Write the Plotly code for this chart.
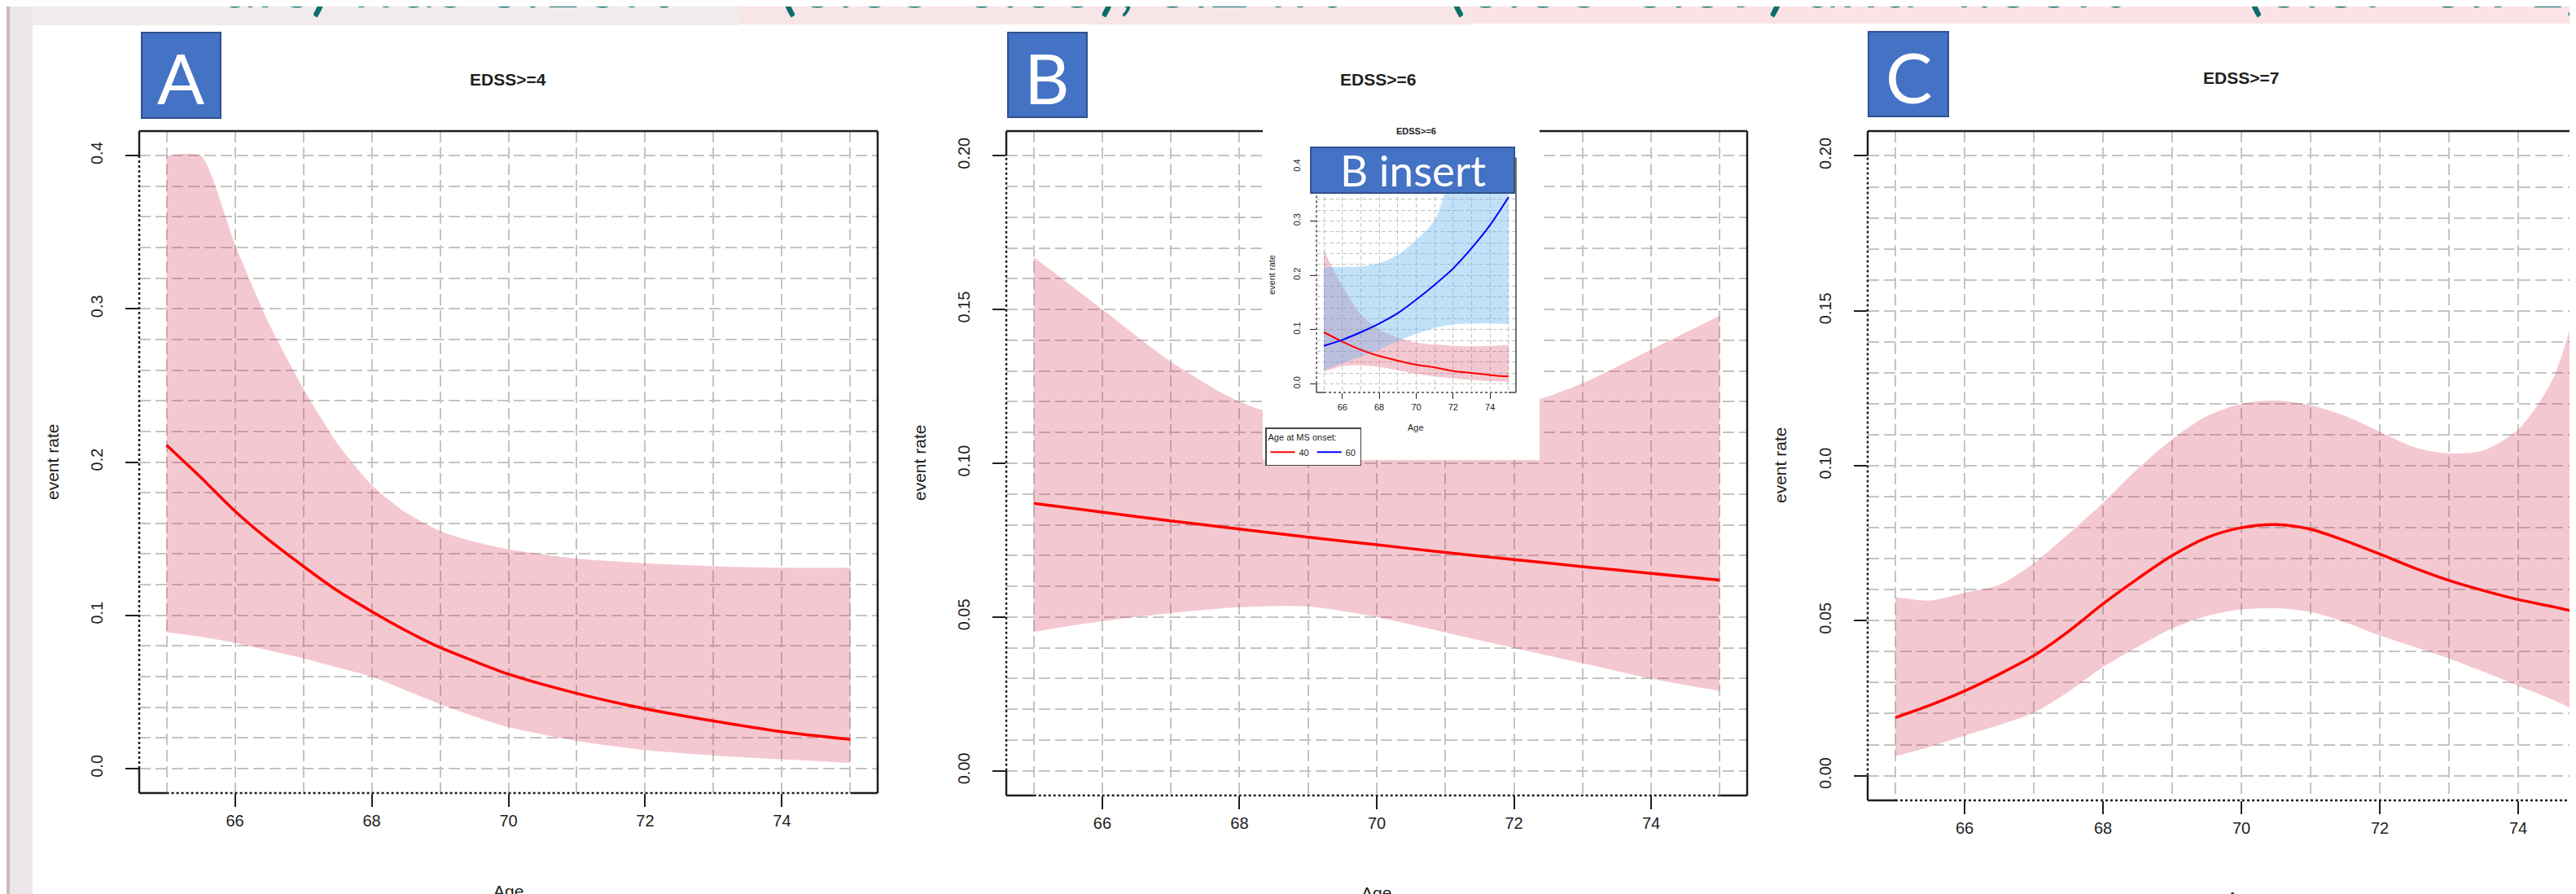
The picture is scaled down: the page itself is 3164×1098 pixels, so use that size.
import plotly.graph_objects as go

W, H = 3164, 1098

# ---------------- data ----------------
X_TICKS = [66, 68, 70, 72, 74]

# Panel A  (EDSS>=4)
A_AGE = [65, 65.5, 66, 66.5, 67, 67.5, 68, 68.5, 69, 69.5, 70, 71, 72, 73, 74, 75]
A_RATE = [0.211, 0.190, 0.168, 0.149, 0.132, 0.116, 0.1025, 0.090, 0.079, 0.070, 0.0616,
          0.049, 0.039, 0.031, 0.024, 0.019]
A_UPPER = [0.400, 0.400, 0.342, 0.290, 0.248, 0.212, 0.185, 0.167, 0.155, 0.148, 0.143,
           0.137, 0.134, 0.132, 0.131, 0.131]
A_LOWER = [0.089, 0.086, 0.082, 0.077, 0.072, 0.066, 0.060, 0.051, 0.042, 0.034, 0.027,
           0.018, 0.012, 0.0085, 0.006, 0.0037]
A_YTICKS = [0.0, 0.1, 0.2, 0.3, 0.4]
A_YTEXT = ["0.0", "0.1", "0.2", "0.3", "0.4"]

# Panel B  (EDSS>=6)
B_AGE = [65, 66, 67, 68, 69, 70, 71, 72, 73, 74, 75]
B_RATE = [0.087, 0.0841, 0.0813, 0.0786, 0.0760, 0.0735, 0.0710, 0.0687, 0.0664, 0.0642, 0.0620]
B_UPPER = [0.167, 0.150, 0.133, 0.120, 0.113, 0.110, 0.112, 0.118, 0.126, 0.137, 0.148]
B_LOWER = [0.0452, 0.0487, 0.0513, 0.0532, 0.0534, 0.0500, 0.0450, 0.0400, 0.0350, 0.0300, 0.0260]
BC_YTICKS = [0.00, 0.05, 0.10, 0.15, 0.20]
BC_YTEXT = ["0.00", "0.05", "0.10", "0.15", "0.20"]

# Panel C  (EDSS>=7)
C_AGE = [65, 65.5, 66, 66.5, 67, 67.5, 68, 68.5, 69, 69.5, 70, 70.5, 71, 71.5, 72, 72.5,
         73, 73.5, 74, 74.5, 75]
C_RATE = [0.0187, 0.0227, 0.0273, 0.0327, 0.0387, 0.0465, 0.0554, 0.0635, 0.0710, 0.0768,
          0.0800, 0.0810, 0.0795, 0.0758, 0.0715, 0.0670, 0.0630, 0.0597, 0.0568, 0.0545, 0.0520]
C_UPPER = [0.0576, 0.0565, 0.0590, 0.0615, 0.0685, 0.0780, 0.0880, 0.0990, 0.1085, 0.1160,
           0.1200, 0.1210, 0.1195, 0.1160, 0.1110, 0.1060, 0.1040, 0.1050, 0.1117, 0.1280, 0.1650]
C_LOWER = [0.0063, 0.0093, 0.0129, 0.0163, 0.0203, 0.0270, 0.0350, 0.0415, 0.0475, 0.0515,
           0.0536, 0.0540, 0.0528, 0.0495, 0.0452, 0.0415, 0.0378, 0.0335, 0.0290, 0.0245, 0.0190]

# B insert  (EDSS>=6 by age at MS onset)
I_AGE = [65, 66, 67, 68, 69, 70, 71, 72, 73, 74, 75]
I40_RATE = [0.095, 0.0775, 0.0625, 0.051, 0.0425, 0.035, 0.030, 0.0235, 0.020, 0.016, 0.0135]
I40_UPPER = [0.245, 0.180, 0.1275, 0.100, 0.085, 0.076, 0.0725, 0.070, 0.069, 0.070, 0.0715]
I40_LOWER = [0.0225, 0.0325, 0.034, 0.031, 0.025, 0.0185, 0.0135, 0.010, 0.007, 0.005, 0.004]
I60_RATE = [0.070, 0.081, 0.095, 0.111, 0.130, 0.155, 0.1825, 0.2125, 0.250, 0.2925, 0.344]
I60_UPPER = [0.215, 0.215, 0.216, 0.2225, 0.2375, 0.265, 0.302, 0.400, 0.500, 0.600, 0.700]
I60_LOWER = [0.025, 0.038, 0.050, 0.064, 0.078, 0.092, 0.103, 0.109, 0.111, 0.111, 0.110]

# ---------------- styling ----------------
FONT_R = "Liberation Sans, Arial, sans-serif"
FONT_C = "Lato, Open Sans, sans-serif"
INK = "#1e1e1e"
GRID = "#c4c4c4"
PINK = "rgba(215,50,80,0.27)"
LBLUE = "rgba(100,180,240,0.40)"
RED = "#ff0000"
BLUE = "#0000ff"
PANEL_BLUE = "#4472c4"
PANEL_EDGE = "#2f528f"


def px(x):
    return x / W


def py(y):
    return 1 - y / H


fig = go.Figure()


def add_band(ages, up, lo, xa, ya, color, smooth=0.8):
    fig.add_trace(go.Scatter(x=ages, y=up, mode="lines",
                             line=dict(width=0, shape="spline", smoothing=smooth),
                             xaxis=xa, yaxis=ya, showlegend=False, hoverinfo="skip"))
    fig.add_trace(go.Scatter(x=ages, y=lo, mode="lines",
                             line=dict(width=0, shape="spline", smoothing=smooth),
                             fill="tonexty", fillcolor=color,
                             xaxis=xa, yaxis=ya, showlegend=False, hoverinfo="skip"))


def add_line(ages, vals, xa, ya, color, width, name=None, legend=False):
    fig.add_trace(go.Scatter(x=ages, y=vals, mode="lines", name=name,
                             line=dict(color=color, width=width, shape="spline", smoothing=0.8),
                             xaxis=xa, yaxis=ya, showlegend=legend, hoverinfo="skip"))


# panel A
add_band(A_AGE, A_UPPER, A_LOWER, "x", "y", PINK, smooth=0.6)
add_line(A_AGE, A_RATE, "x", "y", RED, 3.5)
# panel B
add_band(B_AGE, B_UPPER, B_LOWER, "x2", "y2", PINK)
add_line(B_AGE, B_RATE, "x2", "y2", RED, 3.5)
# panel C
add_band(C_AGE, C_UPPER, C_LOWER, "x3", "y3", PINK)
add_line(C_AGE, C_RATE, "x3", "y3", RED, 3.5)
# white cover behind the insert (empty subplot whose background hides panel B)
fig.add_trace(go.Scatter(x=[], y=[], xaxis="x4", yaxis="y4", showlegend=False, hoverinfo="skip"))
# insert
add_band(I_AGE, I40_UPPER, I40_LOWER, "x5", "y5", PINK)
add_band(I_AGE, I60_UPPER, I60_LOWER, "x5", "y5", LBLUE)
add_line(I_AGE, I40_RATE, "x5", "y5", RED, 2, name="40", legend=True)
add_line(I_AGE, I60_RATE, "x5", "y5", BLUE, 2, name="60", legend=True)

# ---------------- axes ----------------
XR = [64.6, 75.4]
YR_A = [-0.016, 0.416]
YR_B = [-0.008, 0.208]


def xaxis(dom, rng, anchor, size=20, ticklen=16, tw=2, standoff=0, gw=2, dash="14px,6px"):
    return dict(domain=dom, range=rng, anchor=anchor, tickmode="array",
                tickvals=X_TICKS, ticktext=[str(v) for v in X_TICKS],
                ticks="outside", ticklen=ticklen, tickwidth=tw, tickcolor=INK,
                showline=False, zeroline=False,
                showgrid=True, gridcolor=GRID, griddash=dash, gridwidth=gw,
                minor=dict(tick0=65, dtick=1, showgrid=True, gridcolor=GRID,
                           griddash=dash, gridwidth=gw, ticks=""),
                tickfont=dict(family=FONT_R, size=size, color=INK),
                ticklabelstandoff=standoff, fixedrange=True)


def yaxis(dom, rng, anchor, vals, text, minor, size=20, ticklen=16, tw=2, standoff=20,
          gw=2, dash="14px,6px"):
    return dict(domain=dom, range=rng, anchor=anchor, tickmode="array",
                tickvals=vals, ticktext=text, tickangle=-90,
                ticks="outside", ticklen=ticklen, tickwidth=tw, tickcolor=INK,
                showline=False, zeroline=False,
                showgrid=True, gridcolor=GRID, griddash=dash, gridwidth=gw,
                minor=dict(tick0=0, dtick=minor, showgrid=True, gridcolor=GRID,
                           griddash=dash, gridwidth=gw, ticks=""),
                tickfont=dict(family=FONT_R, size=size, color=INK),
                ticklabelstandoff=standoff, fixedrange=True)


# pixel boxes of the plotting areas
A_BOX = (163, 153, 1070, 966)
B_BOX = (1228, 153, 2138, 969)
C_BOX = (2286, 153, 3164, 975)
COVER = (1543, 140, 1883, 557)
I_BOX = (1609, 186, 1854, 474)

C_XR = [64.6, 64.6 + (C_BOX[2] - C_BOX[0]) / 85.0]


def xdom(b):
    return [px(b[0]), px(b[2])]


def ydom(b):
    return [py(b[3]), py(b[1])]


fig.update_layout(
    xaxis=xaxis(xdom(A_BOX), XR, "y"),
    yaxis=yaxis(ydom(A_BOX), YR_A, "x", A_YTICKS, A_YTEXT, 0.02),
    xaxis2=xaxis(xdom(B_BOX), XR, "y2"),
    yaxis2=yaxis(ydom(B_BOX), YR_B, "x2", BC_YTICKS, BC_YTEXT, 0.01),
    xaxis3=xaxis(xdom(C_BOX), C_XR, "y3"),
    yaxis3=yaxis(ydom(C_BOX), YR_B, "x3", BC_YTICKS, BC_YTEXT, 0.01),
    xaxis4=dict(domain=xdom(COVER), range=[0, 1], anchor="y4", showgrid=False, zeroline=False,
                showticklabels=False, ticks="", showline=False, fixedrange=True),
    yaxis4=dict(domain=ydom(COVER), range=[0, 1], anchor="x4", showgrid=False, zeroline=False,
                showticklabels=False, ticks="", showline=False, fixedrange=True),
    xaxis5=xaxis(xdom(I_BOX), XR, "y5", size=11, ticklen=7, tw=1.2, standoff=1, gw=1,
                  dash="5px,3px"),
    yaxis5=yaxis(ydom(I_BOX), YR_A, "x5", A_YTICKS, A_YTEXT, 0.02, size=11, ticklen=7,
                 tw=1.2, standoff=8, gw=1, dash="5px,3px"),
)

# ---------------- shapes ----------------
shapes = []


def rect_px(x0, y0, x1, y1, fill, line_color=None, lw=0, layer="above"):
    shapes.append(dict(type="rect", xref="paper", yref="paper", x0=px(x0), x1=px(x1),
                       y0=py(y1), y1=py(y0), fillcolor=fill, layer=layer,
                       line=dict(color=line_color or fill, width=lw)))


def seg(xref, yref, x0, y0, x1, y1, dash="solid", width=2.5, color=INK):
    shapes.append(dict(type="line", xref=xref, yref=yref, x0=x0, y0=y0, x1=x1, y1=y1,
                       line=dict(color=color, width=width, dash=dash), layer="above"))


# slide background pieces
rect_px(0, 0, 900, 23, "#f1ebeb", layer="below")
rect_px(900, 0, 1800, 22, "#f7e5e7", layer="below")
rect_px(1800, 0, W, 21, "#fbe3e5", layer="below")
rect_px(0, 0, 32, H, "#ece7e9", layer="below")
rect_px(0, 0, 4, H, "#c9b8bc", layer="below")


def frame(xa, ya, xr, yr, y_lo, y_hi, x_lo=65, x_hi=75, top=True, right=True, lw=2.5,
          color=INK):
    xd, yd = xa + " domain", ya + " domain"
    if top:
        seg(xd, yd, 0, 1, 1, 1, width=lw, color=color)
    if right:
        seg(xd, yd, 1, 0, 1, 1, width=lw, color=color)
    # left side: solid outside data range, dotted inside
    seg(xd, ya, 0, yr[0], 0, y_lo, width=lw, color=color)
    seg(xd, ya, 0, y_lo, 0, y_hi, dash="dot", width=lw, color=color)
    seg(xd, ya, 0, y_hi, 0, yr[1], width=lw, color=color)
    # bottom side
    seg(xa, yd, xr[0], 0, x_lo, 0, width=lw, color=color)
    seg(xa, yd, x_lo, 0, min(x_hi, xr[1]), 0, dash="dot", width=lw, color=color)
    if x_hi < xr[1]:
        seg(xa, yd, x_hi, 0, xr[1], 0, width=lw, color=color)


frame("x", "y", XR, YR_A, 0.0, 0.4)
frame("x2", "y2", XR, YR_B, 0.0, 0.2, top=False)
seg("paper", "paper", px(B_BOX[0]), py(B_BOX[1]), px(COVER[0]), py(B_BOX[1]))
seg("paper", "paper", px(COVER[2]), py(B_BOX[1]), px(B_BOX[2]), py(B_BOX[1]))
frame("x3", "y3", C_XR, YR_B, 0.0, 0.2, right=False)
frame("x5", "y5", XR, YR_A, 0.0, 0.4, lw=1.5, color="#444444")

# panel letter boxes
rect_px(166, 32, 263, 137, PANEL_BLUE, PANEL_EDGE, 2)
rect_px(1230, 32, 1327, 136, PANEL_BLUE, PANEL_EDGE, 2)
rect_px(2287, 31, 2385, 135, PANEL_BLUE, PANEL_EDGE, 2)
rect_px(1602, 173, 1852, 229, PANEL_BLUE, PANEL_EDGE, 2)

fig.update_layout(shapes=shapes)

# ---------------- text ----------------
ann = []


def text_px(x, y, s, size, family=FONT_R, color=INK, weight="normal", angle=0,
            xanchor="center", yanchor="middle"):
    ann.append(dict(x=px(x), y=py(y), xref="paper", yref="paper", text=s, showarrow=False,
                    xanchor=xanchor, yanchor=yanchor, textangle=angle,
                    font=dict(family=family, size=size, color=color, weight=weight)))


# clipped slide headline (only the bottom of the line is visible, as in the slide)
TEAL = "#0b6e6c"
HL_Y = 21
text_px(263, HL_Y, "ars) was 0.16%", 86, FONT_C, TEAL, xanchor="left", yanchor="bottom")
text_px(946, HL_Y, "(0.03-0.05), 0.24%", 86, FONT_C, TEAL, xanchor="left", yanchor="bottom")
text_px(1767, HL_Y, "(0.06-0.09) and 4.00%", 86, FONT_C, TEAL, xanchor="left", yanchor="bottom")
text_px(2747, HL_Y, "(0.07-0.91)", 86, FONT_C, TEAL, xanchor="left", yanchor="bottom")

# panel letters
text_px(214, 86, "A", 86, FONT_C, "white")
text_px(1278, 86, "B", 86, FONT_C, "white")
text_px(2336, 85, "C", 86, FONT_C, "white")
text_px(1727, 201, "B insert", 53, FONT_C, "white")

# titles
text_px(616, 90, "EDSS>=4", 21, weight="bold")
text_px(1684, 90, "EDSS>=6", 21, weight="bold")
text_px(2744, 88, "EDSS>=7", 21, weight="bold")
text_px(1731, 153, "EDSS>=6", 11, weight="bold")

# axis titles
text_px(56, 560, "event rate", 21, angle=-90)
text_px(1121, 561, "event rate", 21, angle=-90)
text_px(2178, 564, "event rate", 21, angle=-90)
text_px(616, 1086, "Age", 21)
text_px(1683, 1088, "Age", 21)
text_px(2745, 1094, "Age", 21)
text_px(1554, 330, "event rate", 11, angle=-90)
text_px(1731, 517, "Age", 11)

fig.update_layout(annotations=ann)

fig.update_layout(
    width=W, height=H, autosize=False, template="none",
    margin=dict(l=0, r=0, t=0, b=0, pad=0),
    paper_bgcolor="white", plot_bgcolor="white",
    showlegend=True,
    legend=dict(x=px(1546), y=py(517), xanchor="left", yanchor="top", orientation="h",
                traceorder="normal",
                title=dict(text="Age at MS onset:", side="top",
                           font=dict(family=FONT_R, size=11, color=INK)),
                font=dict(family=FONT_R, size=11, color=INK),
                bgcolor="white", bordercolor="#444444", borderwidth=1.5,
                itemwidth=30, tracegroupgap=0),
)

fig.write_html("out.html")
